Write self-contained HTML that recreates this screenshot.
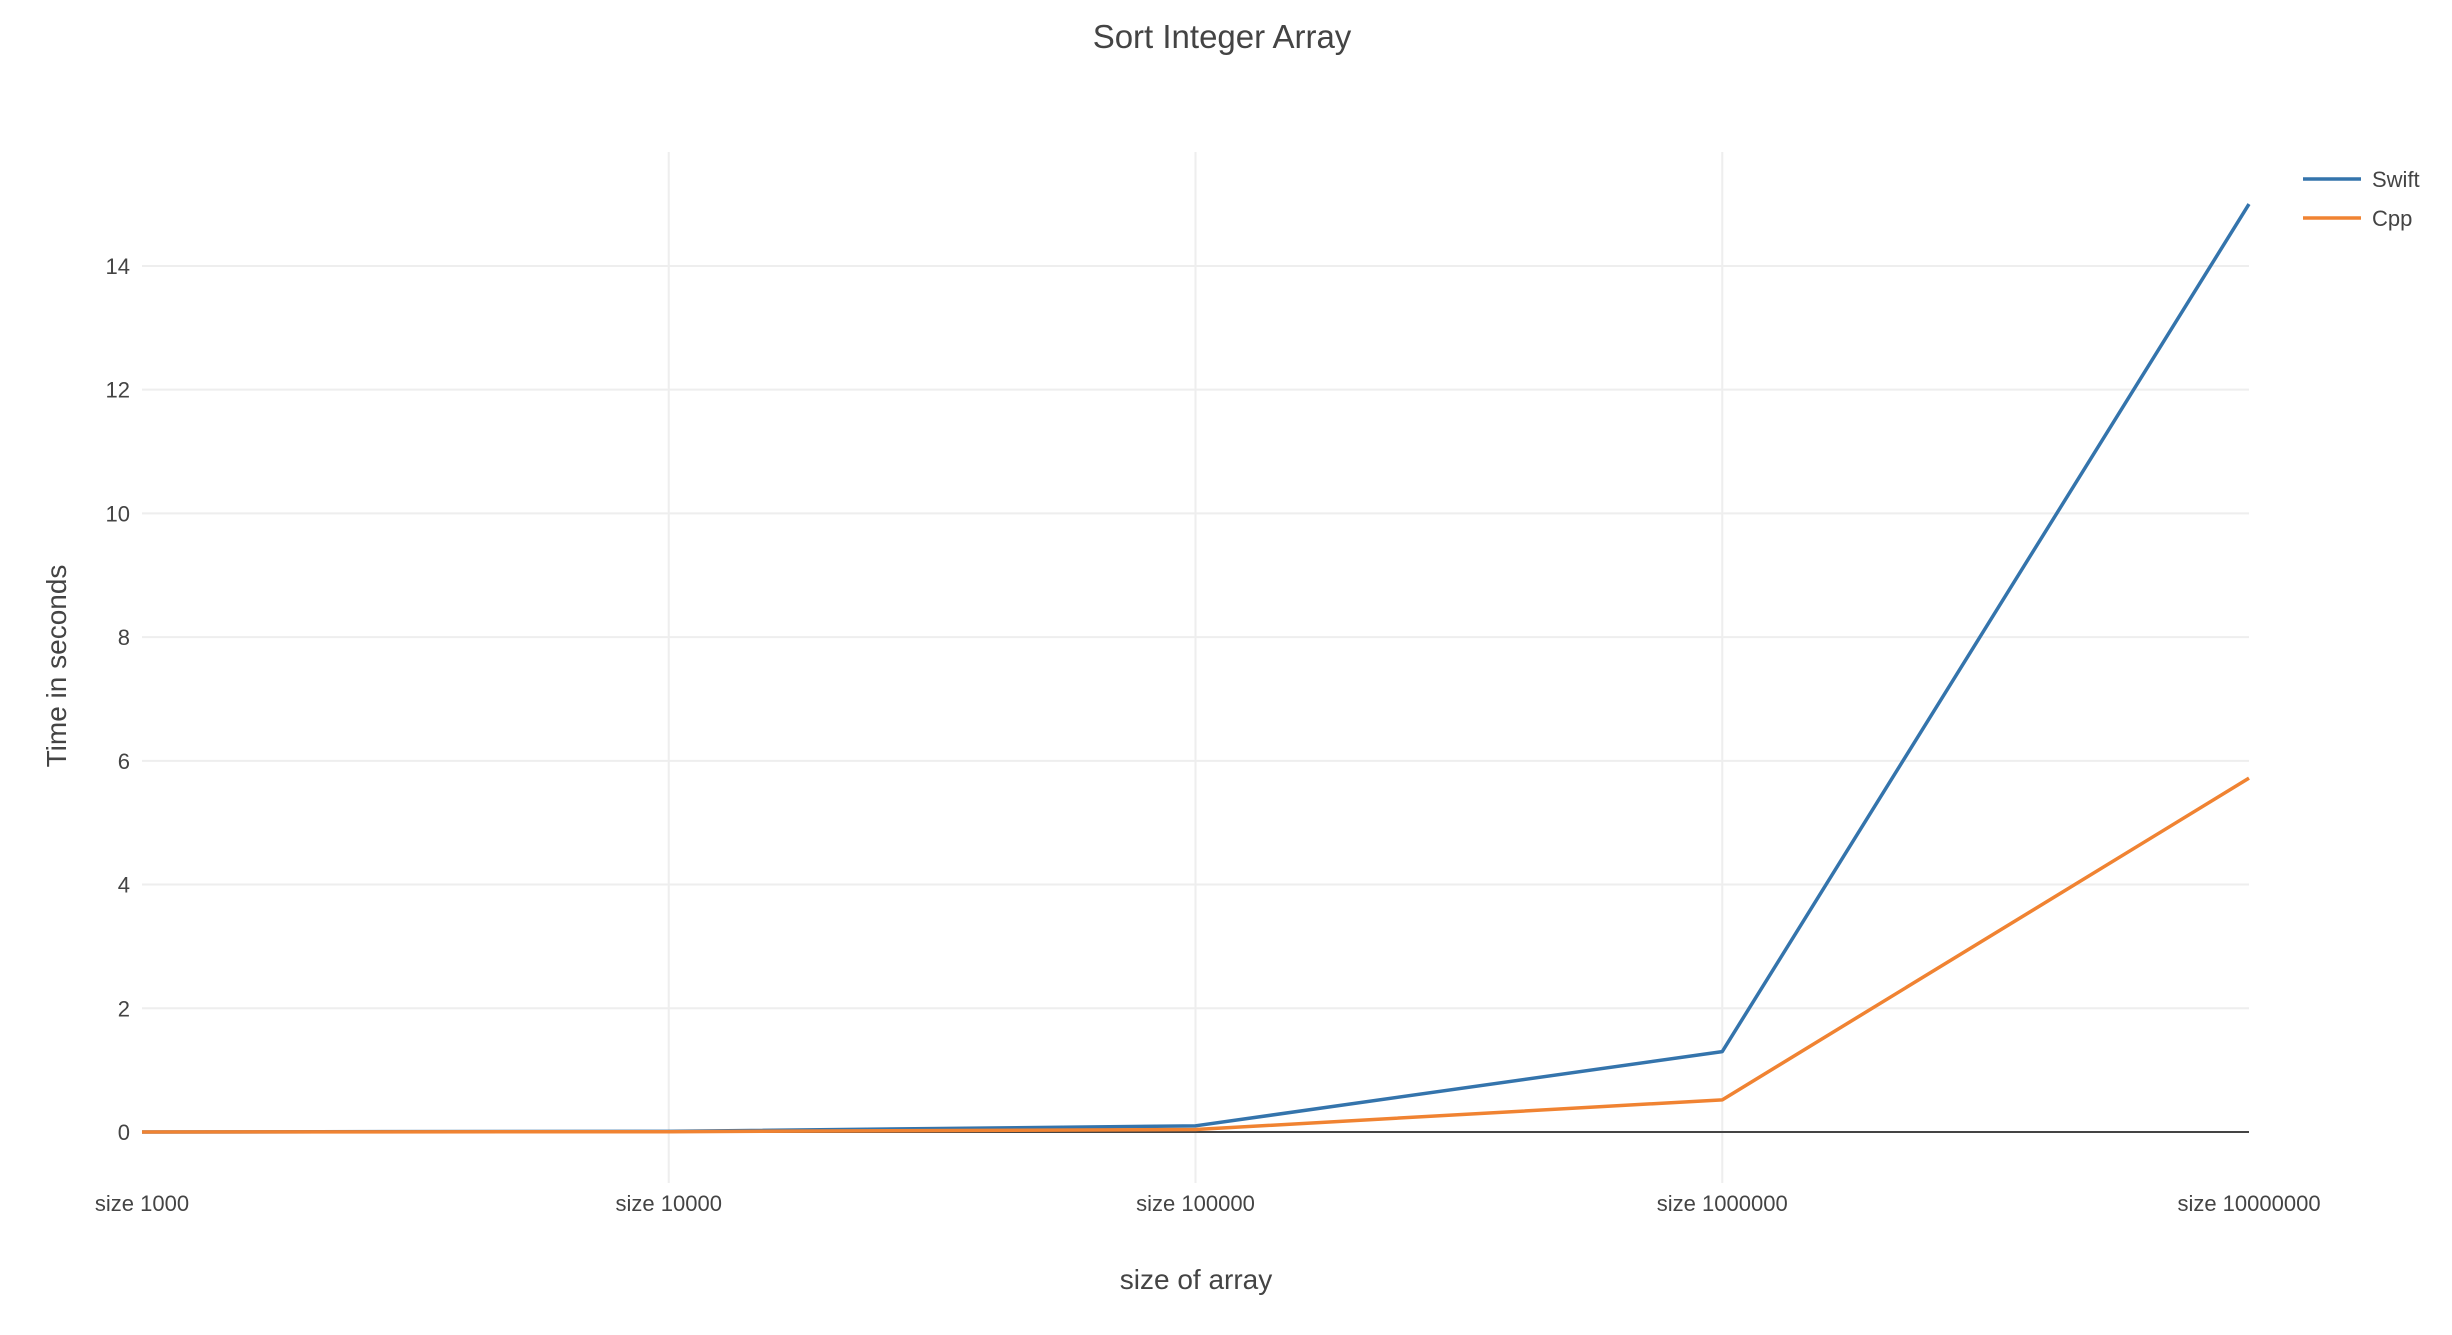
<!DOCTYPE html>
<html><head><meta charset="utf-8"><style>
html,body{margin:0;padding:0;background:#fff;}
svg text{font-family:"Liberation Sans",sans-serif;fill:#444;}
</style></head><body>
<svg id="chart" width="2452" height="1330" xmlns="http://www.w3.org/2000/svg">
<text x="1222" y="48" font-size="33" text-anchor="middle">Sort Integer Array</text>
<g id="grid"></g>
<g id="series"></g>
<text x="1196" y="1289" font-size="28" text-anchor="middle">size of array</text>
<text transform="translate(66,666) rotate(-90)" font-size="28" text-anchor="middle">Time in seconds</text>
<g id="legend"></g>
</svg>
<script>
const categories = ["size 1000","size 10000","size 100000","size 1000000","size 10000000"];
const swiftValues = [0.001, 0.01, 0.1, 1.3, 15.0];
const cppValues = [0.0005, 0.005, 0.04, 0.52, 5.72];
const yTicks = [0,2,4,6,8,10,12,14];
const seriesNames = ["Swift","Cpp"];
const colors = ["#3474ac","#f08332"];
const NS="http://www.w3.org/2000/svg";
const L=142,R=2249,T=152,B=1183,Y0=1132,PU=61.86;
const xs=i=>L+i*(R-L)/(categories.length-1);
const ys=v=>Y0-v*PU;
function mk(t,a,p){const e=document.createElementNS(NS,t);for(const k in a)e.setAttribute(k,a[k]);p.appendChild(e);return e;}
const grid=document.getElementById('grid');
yTicks.forEach(v=>{
  if(v!==0){const g=mk('line',{x1:L,x2:R,y1:ys(v),y2:ys(v),stroke:'#eeeeee','stroke-width':2},grid);
  
  }
  const t=mk('text',{x:L-12,y:ys(v)+8,'font-size':22,'text-anchor':'end'},grid);t.textContent=v;
  
  
});
categories.forEach((c,i)=>{
  if(i>0&&i<categories.length-1){const g=mk('line',{x1:xs(i),x2:xs(i),y1:T,y2:B,stroke:'#eeeeee','stroke-width':2},grid);
  
  }
  const t=mk('text',{x:xs(i),y:1211,'font-size':22,'text-anchor':'middle'},grid);t.textContent=c;
  
  
});
const zl=mk('line',{x1:L,x2:R,y1:Y0,y2:Y0,stroke:'#444','stroke-width':2},grid);


const ser=document.getElementById('series');
[swiftValues,cppValues].forEach((vals,k)=>{
  const p=mk('polyline',{points:vals.map((v,i)=>xs(i)+','+ys(v)).join(' '),fill:'none',stroke:colors[k],'stroke-width':3.5,'stroke-linejoin':'round'},ser);
  
  
});
const lg=document.getElementById('legend');
seriesNames.forEach((n,k)=>{
  const y=179+k*39;
  const g=mk('g',{},lg);
  
  
  mk('line',{x1:2303,x2:2361,y1:y,y2:y,stroke:colors[k],'stroke-width':3.5},g);
  const t=mk('text',{x:2372,y:y+8,'font-size':22},g);t.textContent=n;
});
</script>
</body></html>
